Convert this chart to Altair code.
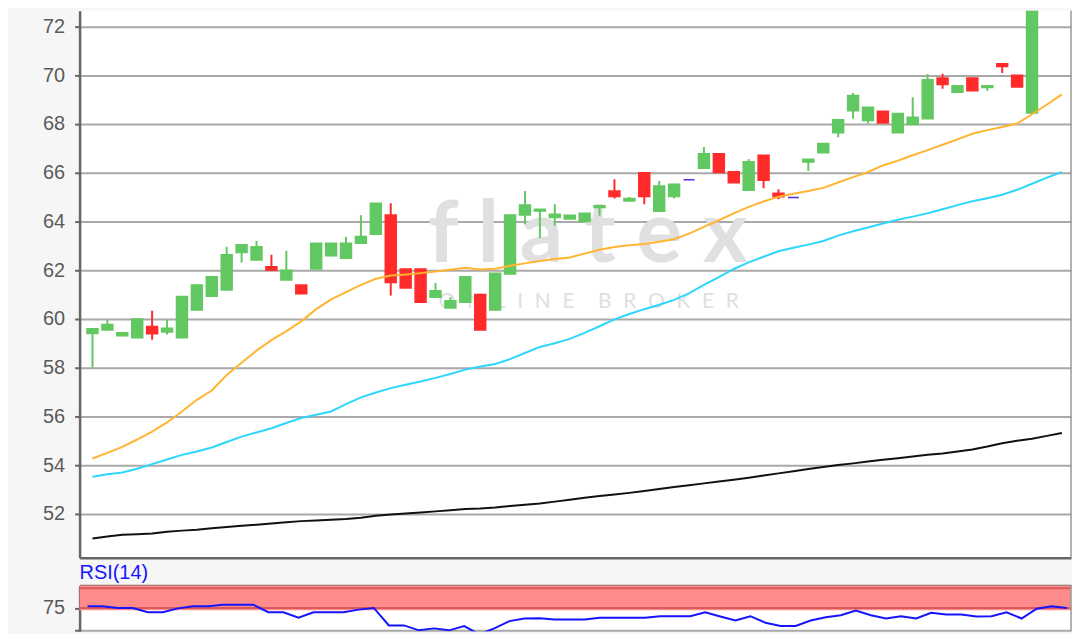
import altair as alt
import pandas as pd

# ---------------- data ----------------
candle_idx = list(range(64))
opens = [59.40, 59.55, 59.31, 59.23, 59.69, 59.46, 59.23, 60.37, 60.93, 61.19,
         62.73, 62.42, 62.14, 61.60, 61.39, 62.05, 62.59, 62.49, 63.11, 63.48,
         64.27, 62.05, 62.05, 60.89, 60.45, 60.68, 61.00, 60.37, 61.84, 64.27,
         64.43, 64.16, 64.10, 64.00, 64.57, 65.25, 64.84, 66.00, 64.42, 65.03,
         65.71, 66.18, 66.78, 66.04, 65.28, 66.72, 65.16, 64.98, 66.44, 66.82,
         67.64, 68.55, 68.14, 68.52, 67.64, 67.98, 68.22, 69.89, 69.30, 69.89,
         69.50, 70.47, 70.00, 68.45]
highs = [59.62, 59.96, 59.43, 60.00, 60.34, 59.96, 60.92, 61.39, 61.73, 62.96,
         63.04, 63.20, 62.63, 62.80, 61.39, 63.11, 63.11, 63.37, 64.26, 64.75,
         64.75, 62.05, 62.05, 61.48, 60.89, 61.73, 61.00, 61.88, 64.27, 65.25,
         64.50, 64.71, 64.26, 64.34, 64.65, 65.73, 65.00, 66.00, 65.66, 65.53,
         65.71, 67.06, 66.78, 66.04, 66.55, 66.72, 65.32, 64.98, 66.55, 67.20,
         68.18, 69.27, 68.69, 68.52, 68.43, 69.10, 70.05, 70.06, 69.57, 69.89,
         69.57, 70.47, 70.00, 74.00]
lows = [58.00, 59.55, 59.31, 59.23, 59.15, 59.36, 59.23, 60.37, 60.93, 61.19,
        62.32, 62.42, 62.00, 61.60, 61.03, 62.05, 62.59, 62.49, 63.11, 63.48,
        60.96, 61.27, 60.68, 60.89, 60.45, 60.68, 59.55, 60.37, 61.84, 63.89,
        63.32, 63.82, 64.10, 64.00, 64.23, 64.94, 64.84, 64.71, 64.42, 64.94,
        65.71, 66.18, 66.01, 65.59, 65.28, 65.36, 64.91, 64.98, 66.07, 66.82,
        67.46, 68.22, 68.03, 68.04, 67.64, 67.98, 68.22, 69.45, 69.30, 69.37,
        69.37, 70.09, 69.52, 68.45]
closes = [59.60, 59.77, 59.43, 60.00, 59.39, 59.62, 60.92, 61.39, 61.73, 62.63,
          63.04, 62.96, 62.00, 62.00, 61.03, 63.11, 63.11, 63.11, 63.38, 64.75,
          61.50, 61.27, 60.68, 61.16, 60.75, 61.73, 59.55, 61.88, 64.27, 64.68,
          64.50, 64.30, 64.26, 64.34, 64.65, 65.03, 64.94, 65.03, 65.46, 65.53,
          65.71, 66.78, 66.01, 65.59, 66.45, 65.69, 65.01, 64.98, 66.55, 67.20,
          68.18, 69.17, 68.69, 68.04, 68.43, 68.28, 69.82, 69.62, 69.57, 69.37,
          69.57, 70.36, 69.52, 74.00]

line_idx = list(range(66))
ma_fast = [54.27, 54.50, 54.75, 55.05, 55.37, 55.75, 56.20, 56.68, 57.06, 57.70,
           58.20, 58.70, 59.13, 59.50, 59.90, 60.40, 60.80, 61.10, 61.40, 61.65,
           61.78, 61.82, 61.88, 61.95, 62.02, 62.10, 62.03, 62.06, 62.18, 62.28,
           62.38, 62.46, 62.52, 62.68, 62.84, 62.95, 63.02, 63.08, 63.17, 63.27,
           63.50, 63.78, 64.05, 64.33, 64.60, 64.82, 65.02, 65.14, 65.25, 65.38,
           65.60, 65.82, 66.03, 66.30, 66.50, 66.72, 66.93, 67.15, 67.37, 67.60,
           67.75, 67.88, 68.02, 68.40, 68.80, 69.22]
ma_mid = [53.52, 53.62, 53.70, 53.85, 54.04, 54.23, 54.42, 54.56, 54.72, 54.95,
          55.17, 55.34, 55.51, 55.73, 55.93, 56.07, 56.20, 56.50, 56.78, 56.98,
          57.16, 57.30, 57.43, 57.58, 57.74, 57.92, 58.05, 58.15, 58.35, 58.60,
          58.85, 59.00, 59.18, 59.43, 59.70, 59.98, 60.20, 60.40, 60.58, 60.78,
          61.05, 61.40, 61.72, 62.05, 62.32, 62.55, 62.78, 62.92, 63.05, 63.20,
          63.42, 63.60, 63.75, 63.92, 64.07, 64.20, 64.34, 64.50, 64.67, 64.83,
          64.95, 65.10, 65.30, 65.55, 65.80, 66.03]
ma_slow = [50.99, 51.07, 51.14, 51.16, 51.19, 51.26, 51.31, 51.35, 51.41, 51.46,
           51.51, 51.55, 51.60, 51.65, 51.70, 51.73, 51.76, 51.79, 51.84, 51.92,
           51.97, 52.01, 52.05, 52.10, 52.15, 52.20, 52.22, 52.26, 52.32, 52.37,
           52.42, 52.50, 52.58, 52.66, 52.73, 52.79, 52.86, 52.94, 53.02, 53.10,
           53.17, 53.25, 53.33, 53.40, 53.48, 53.57, 53.66, 53.75, 53.84, 53.92,
           54.00, 54.07, 54.15, 54.22, 54.28, 54.35, 54.42, 54.48, 54.56, 54.64,
           54.76, 54.90, 55.00, 55.08, 55.20, 55.32]
rsi_values = [76.8, 76.8, 75.0, 75.0, 70.2, 70.2, 74.5, 76.8, 76.8, 78.6,
              78.6, 78.6, 70.2, 70.2, 64.0, 70.2, 70.2, 70.2, 73.1, 75.0,
              55.5, 55.5, 50.0, 52.2, 50.0, 54.8, 45.6, 52.2, 60.3, 63.2,
              63.5, 62.1, 62.1, 62.1, 64.0, 64.0, 64.0, 64.0, 65.8, 65.8,
              65.8, 70.2, 65.5, 61.0, 65.8, 58.5, 54.8, 54.8, 61.0, 64.7,
              66.9, 72.0, 66.9, 63.2, 65.8, 63.2, 69.5, 67.6, 67.6, 65.4,
              65.8, 70.2, 63.2, 74.2, 76.8, 75.0]

price_ticks = [52, 54, 56, 58, 60, 62, 64, 66, 68, 70, 72]
rsi_ticks = [50, 75]
rsi_zone = [72.5, 100]
rsi_zone_edges = [97, 75]
GAP = "\u2002\u200a"
watermark = ["f l a t e x", GAP.join("ONLINE") + GAP + GAP + GAP.join("BROKER")]

# ---------------- styling ----------------
W = 997
H_MAIN = 550
H_RSI = 46
FONT = "Liberation Sans"
GREEN = "#62c862"
RED = "#ff2b2b"
PURPLE = "#5b2bd6"

candles = pd.DataFrame({"i": candle_idx, "open": opens, "high": highs,
                        "low": lows, "close": closes})
fast_df = pd.DataFrame({"i": line_idx, "v": ma_fast})
mid_df = pd.DataFrame({"i": line_idx, "v": ma_mid})
slow_df = pd.DataFrame({"i": line_idx, "v": ma_slow})
rsi_df = pd.DataFrame({"i": line_idx, "rsi": rsi_values})

xscale = alt.Scale(domain=[-0.53, 65.28], nice=False, zero=False)
yscale = alt.Scale(domain=[50.2, 72.65], nice=False, zero=False)
rscale = alt.Scale(domain=[49, 100], nice=False, zero=False)
dscale = alt.Scale(domain=["up", "down", "flat"], range=[GREEN, RED, PURPLE])

y_axis = alt.Axis(values=price_ticks, title=None, grid=True, gridColor="#a9a9a9",
                  gridWidth=2, domainColor="#666666", domainWidth=2.5,
                  tickColor="#666666", tickSize=5, tickWidth=2, labelFont=FONT,
                  labelFontSize=20, labelColor="#5a5a5a", labelPadding=10,
                  minExtent=72, maxExtent=72)
x_axis_bottom = alt.Axis(orient="bottom", title=None, labels=False, ticks=False,
                         grid=False, domainColor="#666666", domainWidth=2.5,
                         minExtent=0, maxExtent=0)

base = alt.Chart(candles).transform_calculate(
    dir="datum.close > datum.open ? 'up' : (datum.close < datum.open ? 'down' : 'flat')"
)

wm = pd.DataFrame({"t": [watermark[0]]})
wm2 = pd.DataFrame({"t": [watermark[1]]})
wm_big = alt.Chart(wm).mark_text(font="Lato", fontSize=86, fontWeight="bold",
                                 color="#e0e0e0", align="center",
                                 baseline="alphabetic").encode(
    x=alt.value(511), y=alt.value(253), text="t:N")
wm_small = alt.Chart(wm2).mark_text(font="Lato", fontSize=21, color="#e0e0e0",
                                    align="center", baseline="alphabetic").encode(
    x=alt.value(512), y=alt.value(299), text="t:N")

wick = base.mark_rule(strokeWidth=2, clip=True).encode(
    x=alt.X("i:Q", scale=xscale, axis=x_axis_bottom),
    y=alt.Y("low:Q", scale=yscale, axis=y_axis),
    y2="high:Q",
    color=alt.Color("dir:N", scale=dscale, legend=None),
)
body = base.mark_bar(size=11, strokeWidth=1.5, clip=True).encode(
    x="i:Q", y="open:Q", y2="close:Q",
    fill=alt.Fill("dir:N", scale=dscale, legend=None),
    stroke=alt.Stroke("dir:N", scale=dscale, legend=None),
)

def ma(df, color):
    return alt.Chart(df).mark_line(color=color, strokeWidth=2, clip=True).encode(
        x="i:Q", y="v:Q")

right_border = alt.Chart(pd.DataFrame({"a": [0]})).mark_rule(
    color="#9a9a9a", strokeWidth=1.5).encode(
    x=alt.value(W), y=alt.value(0), y2=alt.value(H_MAIN))

main = alt.layer(
    wm_big, wm_small, wick, body,
    ma(slow_df, "#111111"), ma(mid_df, "#2fd6fb"), ma(fast_df, "#ffb531"),
    right_border,
).properties(width=W, height=H_MAIN)

# ---------------- RSI panel ----------------
rsi_axis = alt.Axis(values=rsi_ticks, title=None, grid=True, gridColor="#a9a9a9",
                    gridWidth=2, domainColor="#666666", domainWidth=2.5,
                    tickColor="#666666", tickSize=5, tickWidth=2, labelFont=FONT,
                    labelFontSize=20, labelColor="#5a5a5a", labelPadding=10,
                    labelExpr="datum.value == 75 ? '75' : ''",
                    minExtent=72, maxExtent=72)
x_axis_top = alt.Axis(orient="top", title=None, labels=False, ticks=False,
                      grid=False, domainColor="#666666", domainWidth=2.5,
                      minExtent=0, maxExtent=0)

zone = alt.Chart(pd.DataFrame({"lo": [rsi_zone[0]], "hi": [rsi_zone[1]]})).mark_rect(
    color="#ff8a8a").encode(
    y=alt.Y("lo:Q", scale=rscale, axis=rsi_axis), y2="hi:Q",
    x=alt.value(0), x2=alt.value(W))
zone_edges = alt.Chart(pd.DataFrame({"v": rsi_zone_edges})).mark_rule(
    color="#d85a5a", strokeWidth=2).encode(
    y="v:Q", x=alt.value(0), x2=alt.value(W))
rsi_line = alt.Chart(rsi_df).mark_line(color="#1414ff", strokeWidth=2, clip=True).encode(
    x=alt.X("i:Q", scale=xscale, axis=x_axis_top),
    y=alt.Y("rsi:Q", scale=rscale))
rsi_right = alt.Chart(pd.DataFrame({"a": [0]})).mark_rule(
    color="#9a9a9a", strokeWidth=1.5).encode(
    x=alt.value(W), y=alt.value(0), y2=alt.value(H_RSI))

rsi_panel = alt.layer(zone, zone_edges, rsi_line, rsi_right).properties(
    width=W, height=H_RSI,
    title=alt.TitleParams("RSI(14)", anchor="start", frame="group", font=FONT,
                          fontSize=20, fontWeight="normal", color="#1414ff",
                          offset=2),
)

chart = alt.vconcat(main, rsi_panel, spacing=4).properties(
    padding={"left": 0, "top": 0, "right": 0, "bottom": 0},
    background="#f6f6f6",
).configure_view(stroke=None, fill="white")

chart.save("out.html", embed_options={"renderer": "svg", "actions": False})
